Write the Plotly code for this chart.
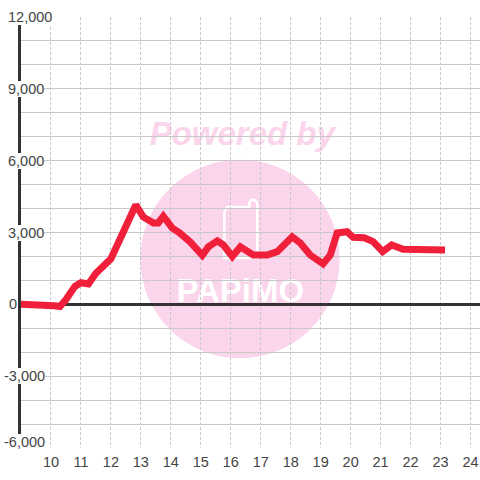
import plotly.graph_objects as go

hours = [9, 9.75, 10.1, 10.3, 10.5, 10.8, 11, 11.25, 11.5, 12, 12.25, 12.5, 12.83, 13.08, 13.42, 13.58, 13.75,
         14.05, 14.28, 14.65, 14.85, 15.05, 15.25, 15.55, 15.75, 16.05, 16.32, 16.75, 17.22, 17.55,
         18.05, 18.32, 18.65, 19.08, 19.32, 19.55, 19.88, 20.08, 20.45, 20.75, 21.07, 21.37, 21.75, 23.15]
values = [0, 0, -60, -90, 200, 750, 900, 850, 1300, 1900, 2600, 3330, 4150, 3650, 3400, 3400, 3680,
          3180, 3000, 2600, 2350, 2050, 2400, 2650, 2480, 2000, 2400, 2060, 2060, 2200,
          2820, 2560, 2060, 1690, 2060, 2980, 3030, 2800, 2780, 2620, 2200, 2480, 2300, 2270]
x_ticks = list(range(10, 25))
y_labels = [12000, 9000, 6000, 3000, 0, -3000, -6000]
y_grid = list(range(-6000, 12001, 1000))

W, H = 480, 480
L, T, B = 20.5, 16.5, 31.5


def px(x):
    return (x - L) / (W - L)


def py(y):
    return 1 - (y - T) / (H - T - B)


fig = go.Figure()
fig.add_trace(go.Scatter(x=hours, y=values, mode="lines",
                         line=dict(color="#f0203a", width=7), hoverinfo="skip", showlegend=False))

phone = [(224, 212), (227, 207), (249, 207), (249, 203), (251, 200), (255, 200), (257, 203), (257, 258), (224, 258)]
path = "M " + " L ".join(f"{px(a):.4f} {py(b):.4f}" for a, b in phone) + " Z"


def text_box(x0, x1, y0, y1, text, family, size, color):
    return dict(type="rect", xref="paper", yref="paper", layer="below",
                x0=px(x0), x1=px(x1), y0=py(y1), y1=py(y0), fillcolor="rgba(0,0,0,0)", line=dict(width=0),
                label=dict(text=text, textposition="middle center",
                           font=dict(family=family, size=size, color=color)))


shapes = [
    dict(type="circle", xref="paper", yref="paper", layer="below", x0=px(140), x1=px(339.5), y0=py(358.5), y1=py(159.5),
         fillcolor="#fbd5ec", line=dict(width=0)),
    dict(type="path", xref="paper", yref="paper", layer="below", path=path, fillcolor="rgba(0,0,0,0)",
         line=dict(color="white", width=2.5)),
    text_box(140, 344, 110, 150, "<b><i>Powered by</i></b>", "Liberation Sans", 33, "#fbd5ec"),
    text_box(160, 320, 268, 308, "<b>PAPiMO</b>", "Liberation Sans", 33, "white"),
]


def fmt(v):
    return f"{v:,}"


def left_edge(v):
    if v < 0:
        return 3
    if v == 0:
        return 8
    return 7


annotations = [dict(xref="paper", yref="y", x=px(left_edge(v)), y=v, text=fmt(v), showarrow=False,
                    xanchor="left", yanchor="middle", yshift=6 if v == -6000 else 0, bgcolor="white", borderpad=0,
                    borderwidth=0, font=dict(family="Liberation Sans", size=14.5, color="#444444"))
               for v in y_labels]

fig.update_layout(
    width=W, height=H, margin=dict(l=L, r=0, t=T, b=B, autoexpand=False),
    paper_bgcolor="white", plot_bgcolor="rgba(0,0,0,0)", showlegend=False,
    shapes=shapes, annotations=annotations,
    xaxis=dict(range=[9, 9 + (W - L) / 30], tickmode="array", tickvals=x_ticks, ticktext=[str(t) for t in x_ticks],
               showgrid=True, gridcolor="#c8c8c8", gridwidth=1, griddash="3px,2px", zeroline=False, showline=False,
               ticks="", ticklabelstandoff=3, tickfont=dict(family="Liberation Sans", size=14.5, color="#444444")),
    yaxis=dict(range=[-6000, 12000], tickmode="array", tickvals=y_grid, showticklabels=False,
               showgrid=True, gridcolor="#c8c8c8", gridwidth=1, zeroline=True, zerolinecolor="#333333", zerolinewidth=3,
               showline=True, linecolor="#333333", linewidth=3, ticks=""),
)
fig.write_html("out.html", config=dict(displayModeBar=False),
               post_script="document.body.style.margin='0';document.body.style.overflow='hidden';")
